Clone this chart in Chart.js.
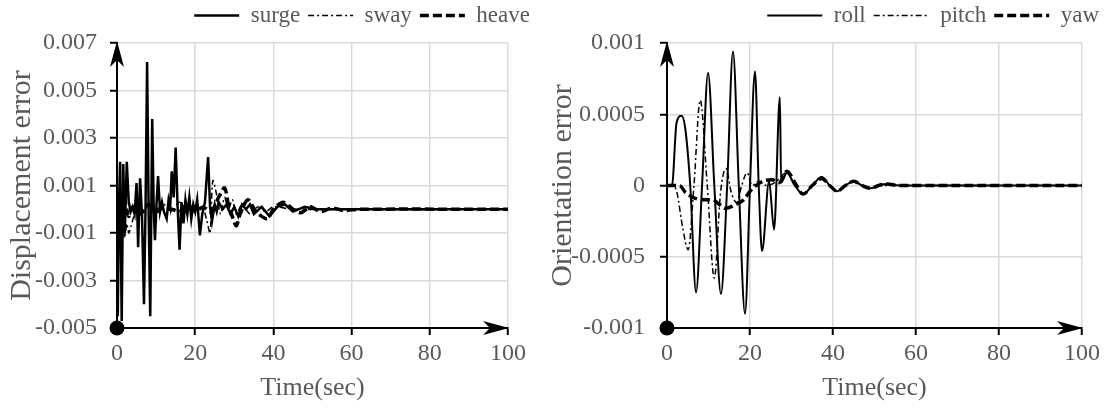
<!DOCTYPE html>
<html>
<head>
<meta charset="utf-8">
<script src="https://cdn.jsdelivr.net/npm/chart.js@4.4.1/dist/chart.umd.min.js"></script>
<style>
  body { margin: 0; background: #fff; }
  #wrap { display: flex; width: 1107px; height: 408px; }
  canvas { display: block; }
</style>
</head>
<body>
<div id="wrap">
  <canvas id="dispChart" width="545" height="408"></canvas>
  <canvas id="oriChart" width="562" height="408"></canvas>
</div>
<script>
// [time (sec), error] pairs for each motion
const surge = [[0,0],[0.2,-0.0045],[0.5,0.0002],[0.8,0.002],[1.2,-0.0047],[1.6,0.0019],[2.0,-0.001],[2.5,0.002],
  [3.0,0.0003],[3.5,-0.0001],[4.0,0.0001],[4.5,-0.0002],[5.0,0.0011],[5.4,-0.0016],[5.9,0.0013],[6.4,-0.0003],
  [6.9,-0.004],[7.3,0.0001],[7.7,0.0062],[8.1,-0.0002],[8.5,-0.0045],[9.0,0.0038],[9.4,0],[9.7,-0.0013],
  [10.1,0.0002],[10.5,0.0014],[11.0,-0.0001],[11.5,0.0003],[12.0,-0.0001],[12.7,-0.0004],[13.2,0.0004],
  [13.6,0.0001],[14.0,0.0016],[14.5,0.0005],[15.0,0.0026],[15.5,0.0001],[16.0,-0.0017],[16.5,0.0003],
  [17,-0.0006],[17.5,0.0004],[18,-0.0002],[18.5,0.0005],[19,-0.0004],[19.5,0.0002],[20,-0.0001],[20.5,0.0004],
  [21.2,-0.0011],[21.8,-0.0002],[22.5,0.0003],[23.3,0.0022],[23.8,0.0001],[24.3,-0.0005],[25,0.0002],
  [25.5,-0.0001],[26,0.0003],[27,0],[28,0.0002],[29,-0.0002],[30,0.0001],[31,-0.0003],[32,0.0002],[33,0],
  [34,0.0002],[35,-0.0002],[37,0.0001],[39,-0.0003],[41,0.0001],[43,0.0002],[45,-0.0001],[48,0.0001],
  [51,0],[55,0],[60,0],[100,0]];
const sway = [[0,0],[0.5,-0.0008],[1.0,-0.0015],[1.5,-0.0005],[2.0,-0.0012],[2.5,-0.0006],[3.0,-0.001],
  [3.6,-0.0007],[4.5,-0.0002],[5.5,0.0001],[7,-0.0001],[8,0.0002],[10,0],[12,0.0002],[14,-0.0001],[16,0.0003],
  [18,-0.0002],[20,0.0001],[22,0],[23,-0.0005],[23.8,-0.001],[24.5,0.0012],[25.5,0.0006],[26.5,-0.0002],
  [27.5,0.0005],[28.5,0],[29.5,0.0004],[30.5,-0.0002],[32,0.0002],[34,-0.0002],[36,0.0001],[38,-0.0001],
  [40,0.0001],[45,0],[100,0]];
const heave = [[0,0],[1,-0.0005],[2,0.0003],[3,-0.0003],[4,0.0001],[6,-0.0002],[8,0.0002],[10,-0.0001],
  [12,0.0001],[14,0],[16,-0.0001],[18,0.0002],[20,-0.0001],[22,0.0001],[24,-0.0001],[26,0.0005],[27.5,0.0009],
  [28.5,0.0002],[29.5,-0.0003],[30.5,-0.0007],[31.5,-0.0002],[33.5,0.0004],[35.5,-0.0001],[37,-0.0003],
  [38.5,-0.0004],[40,0],[42.5,0.0003],[45,0],[47,-0.00015],[49.5,0.0001],[52,-0.0001],[55,0.00005],
  [58,-0.00005],[62,0],[100,0]];

const roll = [[0,0],[1.2,0],[2.3,0.00044],[3.5,0.00049],[4.4,0.0004],[5.6,0],[7.0,-0.00075],[8.45,0],
  [9.9,0.00079],[11.4,0],[13.0,-0.00076],[14.5,0],[15.9,0.00094],[17.3,0],[18.8,-0.0009],[20.0,0],
  [21.2,0.0008],[22.1,0],[22.9,-0.00046],[24.6,0.00003],[25.8,-0.00031],[27.2,0.00062],[27.5,0.00002],
  [28.9,0.00009],[30.8,0],[32.8,-0.00006],[35,0],[37.3,0.00006],[39.2,0],[41,-0.00004],[43,0],[45,0.00003],
  [47,0],[49,-0.00002],[51,0],[53,0.00001],[56,0],[60,0],[100,0]];
const pitch = [[0,0],[1.5,0],[2.4,-0.00005],[3.8,-0.0003],[5.1,-0.00045],[6.5,0],[8.0,0.0006],[9.7,0],
  [11.4,-0.00065],[12.9,-0.00005],[14.2,0.00012],[15.5,-0.00005],[16.8,-0.00012],[18,0],[19.3,0.00009],
  [20.5,0],[22,0.00003],[24,0],[26,0.00002],[28.9,0.00009],[30.8,0],[32.8,-0.00006],[35,0],[37.3,0.00006],
  [39.2,0],[41,-0.00004],[43,0],[45,0.00003],[47,0],[49,-0.00002],[51,0],[56,0],[100,0]];
const yaw = [[0,0],[3,0],[4.5,-0.00005],[6.8,-0.00009],[9,-0.0001],[11,-0.0001],[12.5,-0.00013],
  [14,-0.00016],[16.8,-0.00013],[18.5,-0.0001],[20,-0.00004],[23.1,0.00003],[25.3,0.00004],[27,0.00002],
  [28.9,0.0001],[30.8,0.00002],[32.8,-0.00006],[35,0],[37.3,0.00005],[39.2,0],[41,-0.00004],[43,0],
  [45,0.00003],[47,0],[49,-0.00002],[51,0],[53,0.00001],[56,0],[100,0]];

const timeTicks = [0, 20, 40, 60, 80, 100];
const dispTicks = [-0.005, -0.003, -0.001, 0.001, 0.003, 0.005, 0.007];
const oriTicks = [-0.001, -0.0005, 0, 0.0005, 0.001];

const FONT = "'Liberation Serif', 'Times New Roman', serif";
const GREY = '#595959';

const toXY = arr => arr.map(p => ({ x: p[0], y: p[1] }));

// arrowheads on both axes and a dot at the origin
const axisArrows = {
  id: 'axisArrows',
  afterDraw(chart) {
    const { ctx, chartArea: a } = chart;
    ctx.save();
    ctx.fillStyle = '#000';
    ctx.beginPath();
    ctx.moveTo(a.left, a.top - 2);
    ctx.lineTo(a.left - 7, a.top + 24);
    ctx.lineTo(a.left, a.top + 17);
    ctx.lineTo(a.left + 7, a.top + 24);
    ctx.closePath();
    ctx.fill();
    ctx.beginPath();
    ctx.moveTo(a.right + 1, a.bottom);
    ctx.lineTo(a.right - 25, a.bottom - 7);
    ctx.lineTo(a.right - 18, a.bottom);
    ctx.lineTo(a.right - 25, a.bottom + 7);
    ctx.closePath();
    ctx.fill();
    ctx.beginPath();
    ctx.arc(a.left, a.bottom, 7.5, 0, Math.PI * 2);
    ctx.fill();
    ctx.restore();
  }
};

// legend samples take the dash and width of their own line
const legendLabels = chart =>
  Chart.defaults.plugins.legend.labels.generateLabels(chart).map(item => {
    const ds = chart.data.datasets[item.datasetIndex];
    item.lineDash = ds.borderDash;
    item.lineWidth = ds.borderWidth;
    item.strokeStyle = '#000';
    return item;
  });

function makeChart(id, sets, yTicks, yTitle, opts) {
  const ymin = yTicks[0], ymax = yTicks[yTicks.length - 1];
  return new Chart(document.getElementById(id), {
    type: 'line',
    data: {
      datasets: sets.map(s => ({
        label: s.label,
        data: toXY(s.data),
        borderColor: '#000',
        backgroundColor: '#000',
        borderWidth: s.width,
        borderDash: s.dash,
        pointRadius: 0,
        fill: false,
        tension: s.tension || 0,
        cubicInterpolationMode: s.mono ? 'monotone' : 'default'
      }))
    },
    options: {
      responsive: false,
      animation: false,
      devicePixelRatio: 1,
      layout: { padding: { top: -4, right: opts.padRight, bottom: 2, left: 0 } },
      plugins: {
        tooltip: { enabled: false },
        legend: {
          position: 'top',
          align: 'end',
          labels: {
            usePointStyle: true,
            pointStyle: 'line',
            pointStyleWidth: opts.sampleWidth,
            padding: 8,
            color: GREY,
            font: { family: FONT, size: 23 },
            generateLabels: legendLabels
          }
        }
      },
      scales: {
        x: {
          type: 'linear',
          min: 0,
          max: 100,
          afterBuildTicks: s => { s.ticks = timeTicks.map(v => ({ value: v })); },
          ticks: { color: GREY, font: { family: FONT, size: 24 }, padding: 4, maxRotation: 0 },
          grid: { color: '#d9d9d9', lineWidth: 1.5, tickColor: '#000', tickLength: 7, tickWidth: 2 },
          border: { color: '#000', width: 2 },
          title: { display: true, text: 'Time(sec)', color: GREY, font: { family: FONT, size: 26 }, padding: { top: 1, bottom: 2 } }
        },
        y: {
          type: 'linear',
          min: ymin,
          max: ymax,
          afterBuildTicks: s => { s.ticks = yTicks.map(v => ({ value: v })); },
          afterFit: s => { s.width = opts.yWidth; },
          ticks: { color: GREY, font: { family: FONT, size: 24 }, padding: opts.tickPad, callback: v => String(v) },
          grid: { color: '#d9d9d9', lineWidth: 1.5, tickColor: '#000', tickLength: 7, tickWidth: 2 },
          border: { color: '#000', width: 2 },
          title: { display: true, text: yTitle, color: GREY, font: { family: FONT, size: 30 }, padding: { top: opts.titlePad, bottom: 0 } }
        },
        padTop: {
          type: 'linear', position: 'top', display: true,
          afterFit: s => { s.height = 6; },
          ticks: { display: false }, grid: { display: false }, border: { display: false }
        },
        padRight: {
          type: 'linear', position: 'right', display: true,
          afterFit: s => { s.width = opts.rightGap; },
          ticks: { display: false }, grid: { display: false }, border: { display: false }
        }
      }
    },
    plugins: [axisArrows]
  });
}

makeChart('dispChart', [
  { label: 'surge', data: surge, width: 2.5, dash: [] },
  { label: 'sway', data: sway, width: 1.5, dash: [6, 3, 2, 3], tension: 0.3 },
  { label: 'heave', data: heave, width: 3.5, dash: [9, 4], tension: 0.3 }
], dispTicks, 'Displacement error',
  { yWidth: 117, padRight: 7, rightGap: 30, tickPad: 13, titlePad: 4, sampleWidth: 45 });

makeChart('oriChart', [
  { label: 'roll', data: roll, width: 2, dash: [], mono: true },
  { label: 'pitch', data: pitch, width: 1.5, dash: [6, 3, 2, 3], mono: true },
  { label: 'yaw', data: yaw, width: 3.5, dash: [9, 4], mono: true }
], oriTicks, 'Orientation error',
  { yWidth: 122, padRight: 0, rightGap: 25, tickPad: 15, titlePad: 0, sampleWidth: 55 });
</script>
</body>
</html>
